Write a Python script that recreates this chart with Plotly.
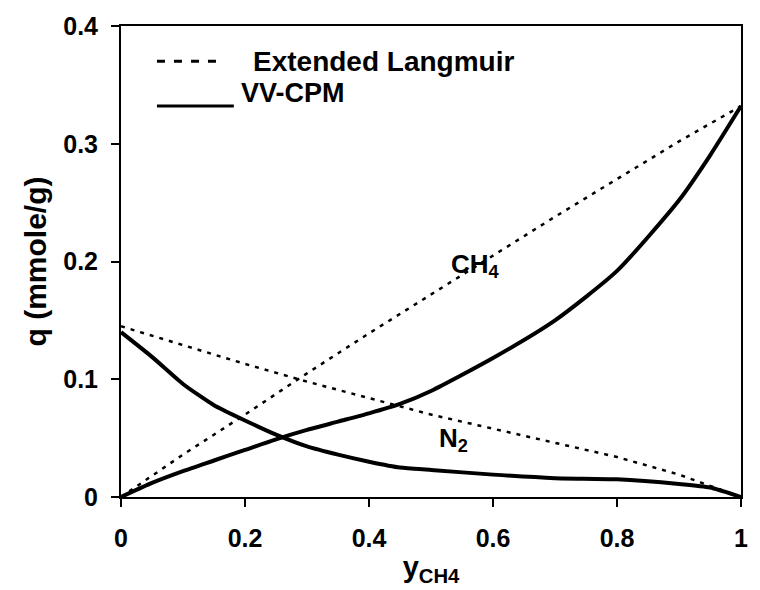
import plotly.graph_objects as go

# Mole fraction of CH4 in gas phase
x_el = [0.0, 0.1, 0.2, 0.3, 0.4, 0.5, 0.6, 0.7, 0.8, 0.9, 1.0]
ch4_el = [0.0, 0.036, 0.070, 0.105, 0.139, 0.172, 0.205, 0.238, 0.270, 0.302, 0.332]
n2_el = [0.145, 0.129, 0.113, 0.098, 0.084, 0.070, 0.058, 0.046, 0.034, 0.019, 0.0]

x_vv = [0.0, 0.05, 0.1, 0.15, 0.2, 0.25, 0.3, 0.35, 0.4, 0.45, 0.5, 0.6, 0.7, 0.8, 0.9, 0.95, 1.0]
ch4_vv = [0.0, 0.012, 0.022, 0.031, 0.040, 0.049, 0.057, 0.064, 0.071, 0.079, 0.090, 0.118, 0.150, 0.192, 0.252, 0.290, 0.332]
n2_vv = [0.140, 0.119, 0.096, 0.078, 0.065, 0.053, 0.043, 0.036, 0.030, 0.025, 0.023, 0.019, 0.016, 0.015, 0.011, 0.008, 0.0]

x_ticks = [0, 0.2, 0.4, 0.6, 0.8, 1]
x_ticklabels = ["<b>0</b>", "<b>0.2</b>", "<b>0.4</b>", "<b>0.6</b>", "<b>0.8</b>", "<b>1</b>"]
y_ticks = [0, 0.1, 0.2, 0.3, 0.4]
y_ticklabels = ["<b>0</b>", "<b>0.1</b>", "<b>0.2</b>", "<b>0.3</b>", "<b>0.4</b>"]

legend_labels = ["<b>Extended Langmuir</b>", "<b>VV-CPM</b>"]

FONT = "Liberation Sans, Arial, sans-serif"
dash_style = "4px,6px"

fig = go.Figure()
fig.add_trace(go.Scatter(x=x_el, y=ch4_el, mode="lines", name="Extended Langmuir CH4",
                         line=dict(color="black", width=2.5, dash=dash_style)))
fig.add_trace(go.Scatter(x=x_el, y=n2_el, mode="lines", name="Extended Langmuir N2",
                         line=dict(color="black", width=2.5, dash=dash_style)))
fig.add_trace(go.Scatter(x=x_vv, y=ch4_vv, mode="lines", name="VV-CPM CH4",
                         line=dict(color="black", width=4, shape="spline", smoothing=0.6)))
fig.add_trace(go.Scatter(x=x_vv, y=n2_vv, mode="lines", name="VV-CPM N2",
                         line=dict(color="black", width=4, shape="spline", smoothing=0.6)))

# curve labels
fig.add_annotation(x=0.572, y=0.197, text="<b>CH<sub>4</sub></b>", showarrow=False,
                   font=dict(family=FONT, size=26, color="black"))
fig.add_annotation(x=0.536, y=0.049, text="<b>N<sub>2</sub></b>", showarrow=False,
                   font=dict(family=FONT, size=26, color="black"))

# legend keys drawn in paper coordinates
fig.add_shape(type="line", xref="paper", yref="paper", x0=0.058, x1=0.16, y0=0.925, y1=0.925,
              line=dict(color="black", width=3, dash="8px,9px"))
fig.add_annotation(xref="paper", yref="paper", x=0.21, y=0.925, xanchor="left", yanchor="middle",
                   text=legend_labels[0], showarrow=False,
                   font=dict(family=FONT, size=28, color="black"))
fig.add_shape(type="line", xref="paper", yref="paper", x0=0.058, x1=0.182, y0=0.83, y1=0.83,
              line=dict(color="black", width=3))
fig.add_annotation(xref="paper", yref="paper", x=0.19, y=0.858, xanchor="left", yanchor="middle",
                   text=legend_labels[1], showarrow=False,
                   font=dict(family=FONT, size=27, color="black"))

fig.update_layout(
    width=760, height=590,
    margin=dict(l=121, r=12, t=25, b=93),
    paper_bgcolor="white", plot_bgcolor="white",
    font=dict(family=FONT, color="black"),
    showlegend=False,
    xaxis=dict(range=[0, 1], tickmode="array", tickvals=x_ticks, ticktext=x_ticklabels,
               showgrid=False, zeroline=False, showline=True, linecolor="black", linewidth=2,
               mirror=True, ticks="outside", ticklen=8, tickwidth=2, tickcolor="black",
               ticklabelstandoff=10,
               tickfont=dict(family=FONT, size=25, color="black"),
               title=dict(text="<b>y<sub>CH4</sub></b>", font=dict(family=FONT, size=29, color="black"), standoff=6)),
    yaxis=dict(range=[0, 0.4], tickmode="array", tickvals=y_ticks, ticktext=y_ticklabels,
               showgrid=False, zeroline=False, showline=True, linecolor="black", linewidth=2,
               mirror=True, ticks="outside", ticklen=8, tickwidth=2, tickcolor="black",
               ticklabelstandoff=8,
               tickfont=dict(family=FONT, size=25, color="black"),
               title=dict(text="<b>q (mmole/g)</b>", font=dict(family=FONT, size=30, color="black"), standoff=8)),
)

fig.write_html("out.html")
